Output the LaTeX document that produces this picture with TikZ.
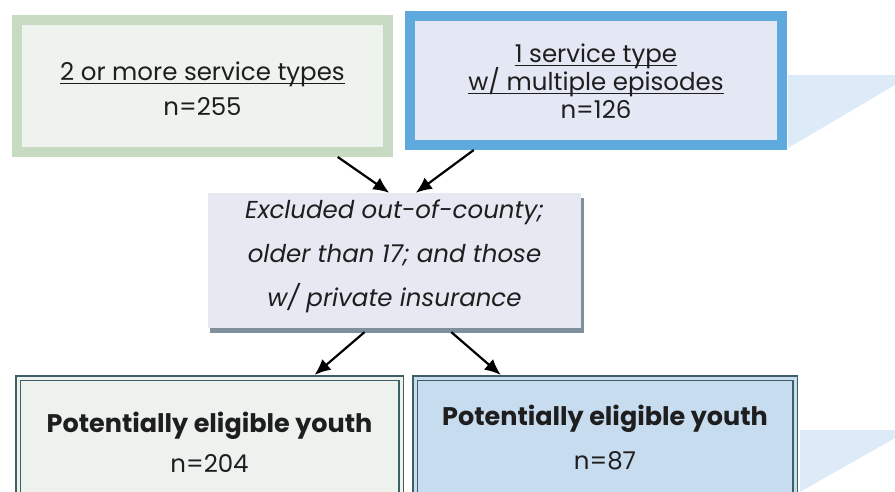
\documentclass[tikz,border=0pt]{standalone}
\usepackage{fontspec}
\setmainfont{Poppins}
\usetikzlibrary{calc,arrows.meta}
\definecolor{greenborder}{HTML}{C7DBC2}
\definecolor{greenfill}{HTML}{EEF3EE}
\definecolor{blueborder}{HTML}{5EA9DE}
\definecolor{bluefill}{HTML}{E4E8F4}
\definecolor{midfill}{HTML}{E6E8F2}
\definecolor{shadowc}{HTML}{7F909C}
\definecolor{dblline}{HTML}{3F5F66}
\definecolor{lfill}{HTML}{EDF2EF}
\definecolor{rfill}{HTML}{C8DCEF}
\definecolor{persp}{HTML}{DDEAF7}
\definecolor{txtc}{HTML}{1E1E1E}
\tikzset{
  topbox/.style={rectangle, inner sep=0pt, line width=10pt},
  dblbox/.style={rectangle, inner sep=0pt, draw=dblline, line width=1.6pt,
    double distance=3pt, outer sep=3.1pt},
  txt/.style={inner sep=0pt, text=txtc, anchor=base, font=\fontsize{24.5}{28}\selectfont},
  itxt/.style={txt, font=\fontsize{24.5}{28}\selectfont\itshape},
  btxt/.style={txt, font=\fontsize{25.5}{30}\selectfont\bfseries},
  uline/.style={draw=txtc, line width=1.3pt},
  arr/.style={draw=black, line width=2.2pt, -{Latex[length=16pt,width=14pt]}}
}
\begin{document}
\begin{tikzpicture}[x=1pt,y=-1pt]
\useasboundingbox (0,0) rectangle (895,491);
\clip (0,0) rectangle (895,491);
% perspective shadows
\fill[persp] (788,75) -- (895,75) -- (895,85) -- (788,148) -- cycle;
\fill[persp] (800,430) -- (895,430) -- (895,438) -- (800,492) -- cycle;
% top boxes
\node[topbox, draw=greenborder, fill=greenfill, minimum width=371pt, minimum height=132pt] (b1) at (202.5,86) {};
\node[topbox, draw=blueborder, fill=bluefill, minimum width=372pt, minimum height=129pt] (b2) at (596,80.5) {};
% middle box
\node[rectangle, inner sep=0pt, fill=midfill, minimum width=373pt, minimum height=135pt] (m) at (394.5,260.5) {};
\fill[shadowc] ($(m.south west)+(2,0)$) rectangle ($(m.south east)+(3,5)$);
\fill[shadowc] ($(m.north east)+(0,5)$) rectangle ($(m.south east)+(3,0)$);
% bottom boxes
\node[dblbox, double=lfill, fill=lfill, minimum width=383pt, minimum height=162pt] (l) at (209.5,459) {};
\node[dblbox, double=rfill, fill=rfill, minimum width=380pt, minimum height=162pt] (r) at (605,459) {};
% texts
\node[txt] (t1a) at (202.5,80) {2 or more service types};
\draw[uline] ($(t1a.base west)+(0,3.5)$) -- ($(t1a.base east)+(0,3.5)$);
\node[txt] (t1b) at (202.5,115) {n=255};
\node[txt] (t2a) at (596,62) {1 service type};
\draw[uline] ($(t2a.base west)+(0,3.5)$) -- ($(t2a.base east)+(0,3.5)$);
\node[txt] (t2b) at (596,90) {w/ multiple episodes};
\draw[uline] ($(t2b.base west)+(0,3.5)$) -- ($(t2b.base east)+(0,3.5)$);
\node[txt] (t2c) at (596,118) {n=126};
\node[itxt] (tma) at (394.5,218) {Excluded out-of-county;};
\node[itxt] (tmb) at (394.5,262) {older than 17; and those};
\node[itxt] (tmc) at (394.5,306) {w/ private insurance};
\node[btxt] (tla) at (209.5,432) {Potentially eligible youth};
\node[txt] (tlb) at (209.5,472) {n=204};
\node[btxt] (tra) at (605,425) {Potentially eligible youth};
\node[txt] (trb) at (605,469) {n=87};
% arrows
\draw[arr] ($(b1.south west)!0.855!(b1.south east)$) -- ($(m.north west)!0.486!(m.north east)$);
\draw[arr] ($(b2.south west)!0.18!(b2.south east)$) -- ($(m.north west)!0.557!(m.north east)$);
\draw[arr, shorten <=6pt] ($(m.south west)!0.432!(m.south east)$) -- ($(l.north west)!0.77!(l.north east)$);
\draw[arr, shorten <=6pt] ($(m.south west)!0.64!(m.south east)$) -- ($(r.north west)!0.23!(r.north east)$);
\end{tikzpicture}
\end{document}
